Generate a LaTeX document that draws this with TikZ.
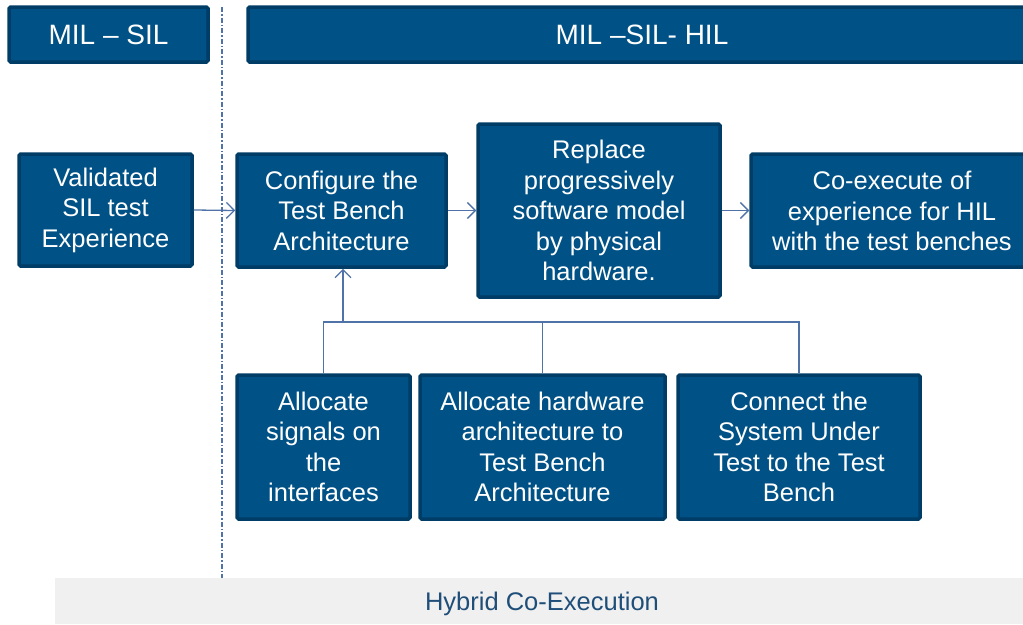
\documentclass[tikz,border=0pt]{standalone}
\usepackage{fontspec}
\setmainfont{Liberation Sans}
\usetikzlibrary{arrows.meta}
\definecolor{boxfill}{HTML}{005185}
\definecolor{boxline}{HTML}{003D66}
\definecolor{conn}{HTML}{4F73A8}
\definecolor{barfill}{HTML}{F0F0F0}
\definecolor{bartext}{HTML}{1F4E79}
\tikzset{
  bluebox/.style={fill=boxfill, draw=boxline, line width=3.5pt, rounded corners=1.5pt,
    text=white, align=center, inner sep=0pt,
    font=\fontsize{25.5}{30.5}\selectfont},
  headbox/.style={bluebox, font=\fontsize{28}{30}\selectfont},
  conline/.style={draw=conn, line width=1.3pt},
  conarrow/.style={conline, -{Straight Barb[length=8pt,width=16pt,line width=1.3pt]}},
  divider/.style={draw=conn, line width=1.2pt, dash pattern=on 5pt off 2pt on 1.5pt off 2pt}
}
\begin{document}
\begin{tikzpicture}[x=1pt,y=-1pt]
\useasboundingbox (0,0) rectangle (1023,624);
% bottom bar
\fill[barfill] (55,578) rectangle (1023,624);
\node[text=bartext, font=\fontsize{25.5}{28}\selectfont] (hyb) at (542,604) {Hybrid Co-Execution};
% divider
\coordinate (dtop) at (222,7);
\coordinate (dbot) at (222,578);
\draw[divider] (dtop) -- (dbot);
% headers
\node[headbox, minimum width=199pt, minimum height=55pt] (h1) at (108.5,34.5) {MIL -- SIL};
\node[headbox, minimum width=800pt, minimum height=55pt] (h2) at (648,34.5) {};
\node[text=white, font=\fontsize{28}{30}\selectfont] (h2t) at (642,34.5) {MIL --SIL- HIL};
% top row
\node[bluebox, minimum width=173pt, minimum height=112pt] (val) at (105.5,210) {Validated\\SIL test\\Experience};
\node[bluebox, minimum width=209pt, minimum height=113pt] (cfg) at (341.5,210.5) {Configure the\\Test Bench\\Architecture};
\node[bluebox, minimum width=242pt, minimum height=173pt] (rep) at (599,210.5) {Replace\\progressively\\software model\\by physical\\hardware.};
\node[bluebox, minimum width=290pt, minimum height=113pt] (coe) at (896,210.5) {};
\node[text=white, align=center, font=\fontsize{25.5}{30.5}\selectfont] (coet) at (892,211) {Co-execute of\\experience for HIL\\with the test benches};
% bottom row
\node[bluebox, minimum width=173pt, minimum height=144pt] (sig) at (323.5,447) {Allocate\\signals on\\the\\interfaces};
\node[bluebox, minimum width=245pt, minimum height=144pt] (hw) at (542.5,447) {Allocate hardware\\architecture to\\Test Bench\\Architecture};
\node[bluebox, minimum width=242pt, minimum height=144pt] (con) at (799,447) {Connect the\\System Under\\Test to the Test\\Bench};
% connectors
\draw[conarrow] (val.east) -- (cfg.west);
\draw[conarrow] (cfg.east) -- (rep.west |- cfg.east);
\draw[conarrow] (rep.east |- coe.west) -- (coe.west);
\coordinate (j) at (343,322);
\draw[conline] (sig.north) |- (con.north |- j) -- (con.north);
\draw[conline] (hw.north) -- (hw.north |- j);
\draw[conarrow] (j) -- (cfg.south -| j);
\end{tikzpicture}
\end{document}
